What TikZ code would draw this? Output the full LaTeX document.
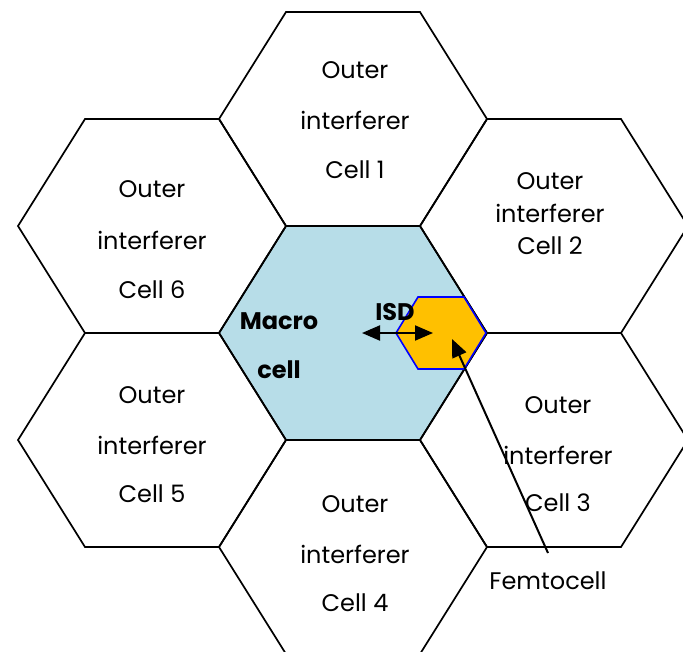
\documentclass[tikz,border=0pt]{standalone}
\usepackage{fontspec}
\setmainfont{Poppins}
\usetikzlibrary{arrows.meta}
\definecolor{macroblue}{HTML}{B7DDE8}
\definecolor{femtoorange}{HTML}{FFC000}
\begin{document}
\begin{tikzpicture}[x=1pt,y=-1pt,
  hexcell/.style={draw=black,line width=1.7pt,line join=miter},
  celltext/.style={font=\fontsize{24}{24}\selectfont,inner sep=0pt,anchor=center},
  boldtext/.style={font=\fontsize{24}{24}\selectfont\bfseries,inner sep=0pt,anchor=center},
  bigtip/.tip={Triangle[length=18pt,width=15pt]},
  arrowline/.style={line width=2pt,-bigtip}]
\useasboundingbox (0,0) rectangle (683,651);
\clip (0,0) rectangle (683,651);
% flat-topped hexagon around a centre
\newcommand{\hexcell}[3][]{%
  \draw[hexcell,#1] (#2-134,#3) -- (#2-67,#3-107) -- (#2+67,#3-107) -- (#2+134,#3)
    -- (#2+67,#3+107) -- (#2-67,#3+107) -- cycle;}
% macro cell and its six neighbours
\hexcell[fill=macroblue]{353}{333}
\hexcell{353}{119}
\hexcell{554}{226}
\hexcell{554}{440}
\hexcell{353}{547}
\hexcell{152}{440}
\hexcell{152}{226}
% femtocell
\draw[draw=blue,line width=1.6pt,fill=femtoorange]
  (396,333) -- (418,297) -- (464,297) -- (486,333) -- (464,369) -- (418,369) -- cycle;
\coordinate (femto) at (452,339);
% labels
\node[celltext] (c1a) at (355,70) {Outer};
\node[celltext] (c1b) at (355,120) {interferer};
\node[celltext] (c1c) at (355,170) {Cell 1};
\node[celltext] (c2a) at (550,181) {Outer};
\node[celltext] (c2b) at (550,213) {interferer};
\node[celltext] (c2c) at (550,246) {Cell 2};
\node[celltext] (c6a) at (152,189) {Outer};
\node[celltext] (c6b) at (152,240) {interferer};
\node[celltext] (c6c) at (152,290) {Cell 6};
\node[celltext] (c5a) at (152,395) {Outer};
\node[celltext] (c5b) at (152,445) {interferer};
\node[celltext] (c5c) at (152,494) {Cell 5};
\node[celltext] (c4a) at (355,504) {Outer};
\node[celltext] (c4b) at (355,554) {interferer};
\node[celltext] (c4c) at (355,603) {Cell 4};
\node[celltext] (c3a) at (558,405) {Outer};
\node[celltext] (c3b) at (558,455) {interferer};
\node[celltext] (c3c) at (558,503) {Cell 3};
\node[boldtext] (m1) at (279,321) {Macro};
\node[boldtext] (m2) at (279,370) {cell};
\node[boldtext] (isd) at (395,312) {ISD};
\node[celltext] (femtolabel) at (548,581) {Femtocell};
% inter-site distance arrow
\coordinate (isdL) at (362,333);
\coordinate (isdR) at (433,333);
\draw[line width=2pt,bigtip-bigtip] (isdL) -- (isdR);
% pointer to the femtocell
\coordinate (ptr) at (548,553);
\draw[arrowline] (ptr) -- (femto);
\end{tikzpicture}
\end{document}
